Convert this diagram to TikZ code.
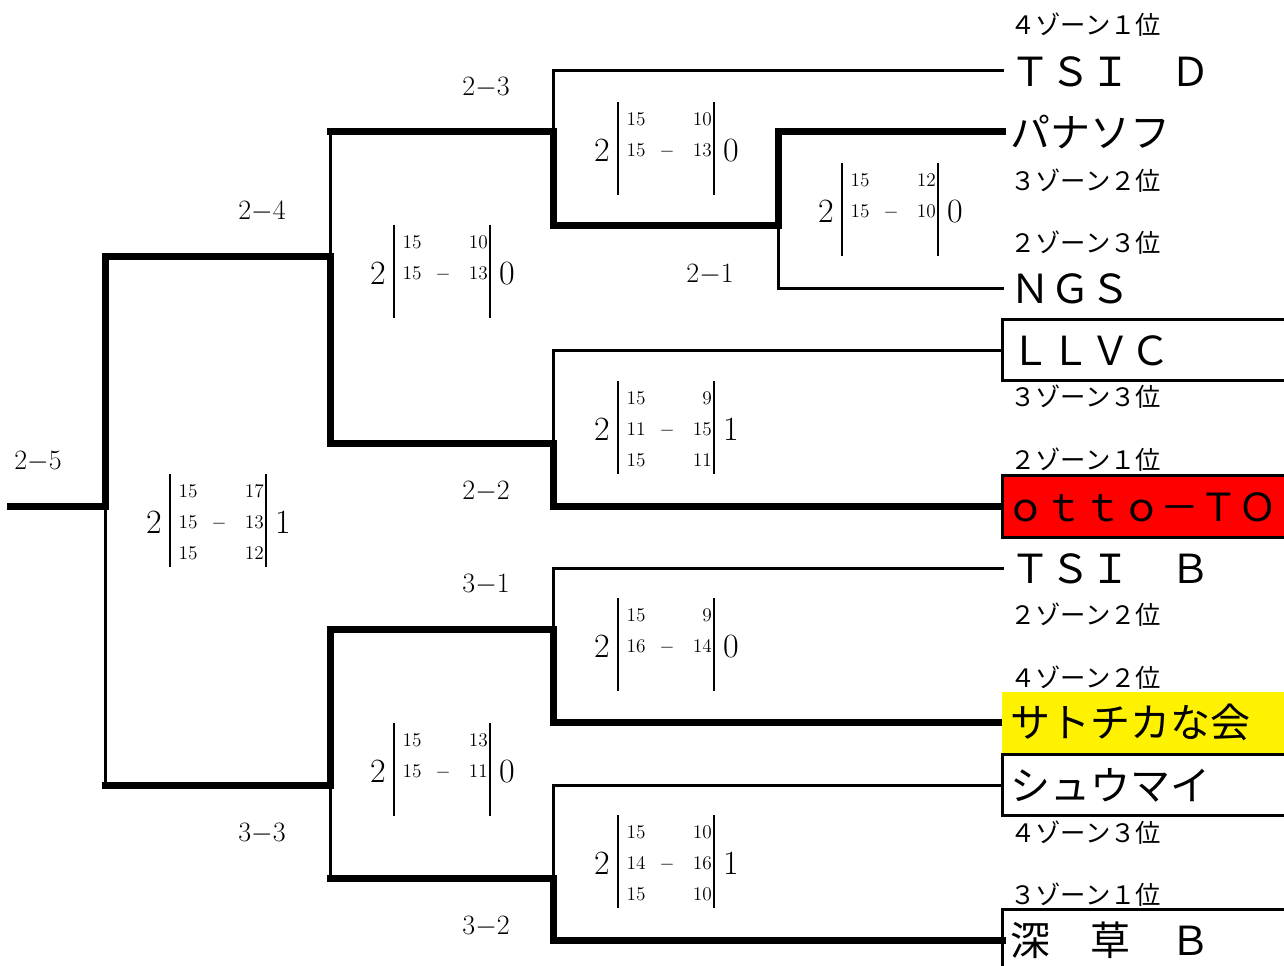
\documentclass[tikz,border=0pt]{standalone}
\usepackage{fontspec}
\newfontfamily\jp{Noto Sans CJK JP}
\newcommand\rdash{$-$}
\newcommand\scoreblk[5]{%
  \node[bigsc] (#5l) at (#1-16,#2) {#3};
  \node[bigsc] (#5r) at (#1+113,#2) {#4};
  \draw[scbar] (#1,#2-48) -- (#1,#2+45);
  \draw[scbar] (#1+96,#2-48) -- (#1+96,#2+45);
}
\newcommand\srow[4]{%
  \node[smallsc] (#4a) at (#1+18,#2) {#3};
}
\newcommand\srowr[4]{%
  \node[smallsc, anchor=east] (#4b) at (#1+94,#2) {#3};
}
\newcommand\sdash[3]{%
  \node[smallsc] (#3d) at (#1+49,#2) {$-$};
}
\begin{document}
\begin{tikzpicture}[x=0.75pt,y=-0.75pt,
  thinln/.style={line width=2.25pt, line join=miter, line cap=rect},
  thickln/.style={line width=5.25pt, line join=miter, line cap=rect},
  scbar/.style={line width=2pt},
  tbox/.style={anchor=west, draw, line width=2.25pt, minimum width=225pt, minimum height=45.5pt, inner sep=0pt, outer sep=0pt},
  team/.style={anchor=west, inner sep=0pt, font=\jp\fontsize{30}{30}\selectfont, text height=26.4pt, text depth=3.6pt},
  zone/.style={anchor=west, inner sep=0pt, font=\jp\fontsize{19}{19}\selectfont, text height=16.72pt, text depth=2.28pt},
  rnd/.style={inner sep=0pt, font=\fontsize{21}{21}\selectfont, text height=13.6pt, text depth=0pt},
  bigsc/.style={inner sep=0pt, font=\fontsize{25.5}{25.5}\selectfont, text height=16.6pt, text depth=0pt},
  smallsc/.style={inner sep=0pt, font=\fontsize{14.5}{14.5}\selectfont, text height=9.4pt, text depth=0pt}
]
\useasboundingbox (0,0) rectangle (1284,966);
\clip (0,0) rectangle (1284,966);
\fill[white] (0,0) rectangle (1284,966);

% team line ends
\coordinate (t1) at (1002,71);
\coordinate (t2) at (1002,132);
\coordinate (t3) at (1002,288);
\coordinate (t4) at (1002,350);
\coordinate (t5) at (1002,506);
\coordinate (t6) at (1002,568);
\coordinate (t7) at (1002,722);
\coordinate (t8) at (1002,785);
\coordinate (t9) at (1002,940);
% bracket points
\coordinate (a1) at (778,132);
\coordinate (a2) at (778,226);
\coordinate (a3) at (778,288);
\coordinate (b1) at (553,71);
\coordinate (b2) at (553,132);
\coordinate (b3) at (553,226);
\coordinate (c1) at (330,132);
\coordinate (c2) at (330,257);
\coordinate (c3) at (330,443);
\coordinate (d1) at (553,350);
\coordinate (d2) at (553,443);
\coordinate (d3) at (553,506);
\coordinate (e1) at (105,257);
\coordinate (e2) at (105,506);
\coordinate (e3) at (105,785);
\coordinate (root) at (10,506);
\coordinate (f1) at (553,568);
\coordinate (f2) at (553,629);
\coordinate (f3) at (553,722);
\coordinate (g1) at (330,629);
\coordinate (g2) at (330,785);
\coordinate (g3) at (330,878);
\coordinate (h1) at (553,785);
\coordinate (h2) at (553,878);
\coordinate (h3) at (553,940);

% thin lines
\draw[thinln] (t1) -- (b1) -- (b2);
\draw[thinln] (t3) -- (a3) -- (a2);
\draw[thinln] (c1) -- (c2);
\draw[thinln] (t4) -- (d1) -- (d2);
\draw[thinln] (e2) -- (e3);
\draw[thinln] (t6) -- (f1) -- (f2);
\draw[thinln] (t8) -- (h1) -- (h2);
\draw[thinln] (g2) -- (g3);
% thick lines
\draw[thickln] (t2) -- (a1) -- (a2) -- (b3) -- (b2) -- (c1);
\draw[thickln] (t5) -- (d3) -- (d2) -- (c3) -- (c2) -- (e1) -- (e2) -- (root);
\draw[thickln] (t7) -- (f3) -- (f2) -- (g1) -- (g2) -- (e3);
\draw[thickln] (t9) -- (h3) -- (h2) -- (g3);

% boxes
\node[tbox] (bx4) at (t4) {};
\node[tbox, fill=red, minimum height=47pt] (bx5) at (1002,506.5) {};
\node[anchor=west, fill=yellow, minimum width=225pt, minimum height=45.75pt, inner sep=0pt, outer sep=0pt] (bx7) at (1002,722.5) {};
\node[tbox] (bx8) at (1002,785) {};
\node[tbox] (bx9) at (1002,940) {};

% team names
\node[team] (n1) at (1010,71) {ＴＳＩ　Ｄ};
\node[team] (n2) at (1010,132) {パナソフ};
\node[team] (n3) at (1010,288) {ＮＧＳ};
\node[team] (n4) at (1010,350) {ＬＬＶＣ};
\node[team, font=\jp\fontsize{29}{29}\selectfont] (n5) at (1006,506) {ｏｔｔｏ－ＴＯ};
\node[team] (n6) at (1010,568) {ＴＳＩ　Ｂ};
\node[team] (n7) at (1010,722) {サトチカな会};
\node[team] (n8) at (1010,785) {シュウマイ};
\node[team] (n9) at (1010,940) {深　草　Ｂ};

% zone labels
\node[zone] (z1) at (1010,25) {４ゾーン１位};
\node[zone] (z2) at (1010,181) {３ゾーン２位};
\node[zone] (z3) at (1010,243) {２ゾーン３位};
\node[zone] (z4) at (1010,397) {３ゾーン３位};
\node[zone] (z5) at (1010,460) {２ゾーン１位};
\node[zone] (z6) at (1010,615) {２ゾーン２位};
\node[zone] (z7) at (1010,678) {４ゾーン２位};
\node[zone] (z8) at (1010,833) {４ゾーン３位};
\node[zone] (z9) at (1010,895) {３ゾーン１位};

% round labels
\node[rnd] (r25) at (38,460) {2\rdash5};
\node[rnd] (r24) at (262,210) {2\rdash4};
\node[rnd] (r33) at (262,832) {3\rdash3};
\node[rnd] (r23) at (486,86) {2\rdash3};
\node[rnd] (r22) at (486,490) {2\rdash2};
\node[rnd] (r31) at (486,583) {3\rdash1};
\node[rnd] (r32) at (486,925) {3\rdash2};
\node[rnd] (r21) at (710,273) {2\rdash1};

% scores
\scoreblk{618}{150}{2}{0}{sA}
\srow{618}{119}{15}{sA1}\srowr{618}{119}{10}{sA1}
\srow{618}{150}{15}{sA2}\sdash{618}{150}{sA2}\srowr{618}{150}{13}{sA2}

\scoreblk{842}{211}{2}{0}{sB}
\srow{842}{180}{15}{sB1}\srowr{842}{180}{12}{sB1}
\srow{842}{211}{15}{sB2}\sdash{842}{211}{sB2}\srowr{842}{211}{10}{sB2}

\scoreblk{394}{273}{2}{0}{sC}
\srow{394}{242}{15}{sC1}\srowr{394}{242}{10}{sC1}
\srow{394}{273}{15}{sC2}\sdash{394}{273}{sC2}\srowr{394}{273}{13}{sC2}

\scoreblk{618}{429}{2}{1}{sD}
\srow{618}{398}{15}{sD1}\srowr{618}{398}{9}{sD1}
\srow{618}{429}{11}{sD2}\sdash{618}{429}{sD2}\srowr{618}{429}{15}{sD2}
\srow{618}{460}{15}{sD3}\srowr{618}{460}{11}{sD3}

\scoreblk{170}{522}{2}{1}{sE}
\srow{170}{491}{15}{sE1}\srowr{170}{491}{17}{sE1}
\srow{170}{522}{15}{sE2}\sdash{170}{522}{sE2}\srowr{170}{522}{13}{sE2}
\srow{170}{553}{15}{sE3}\srowr{170}{553}{12}{sE3}

\scoreblk{618}{646}{2}{0}{sF}
\srow{618}{615}{15}{sF1}\srowr{618}{615}{9}{sF1}
\srow{618}{646}{16}{sF2}\sdash{618}{646}{sF2}\srowr{618}{646}{14}{sF2}

\scoreblk{394}{771}{2}{0}{sG}
\srow{394}{740}{15}{sG1}\srowr{394}{740}{13}{sG1}
\srow{394}{771}{15}{sG2}\sdash{394}{771}{sG2}\srowr{394}{771}{11}{sG2}

\scoreblk{618}{863}{2}{1}{sH}
\srow{618}{832}{15}{sH1}\srowr{618}{832}{10}{sH1}
\srow{618}{863}{14}{sH2}\sdash{618}{863}{sH2}\srowr{618}{863}{16}{sH2}
\srow{618}{894}{15}{sH3}\srowr{618}{894}{10}{sH3}
\end{tikzpicture}
\end{document}
